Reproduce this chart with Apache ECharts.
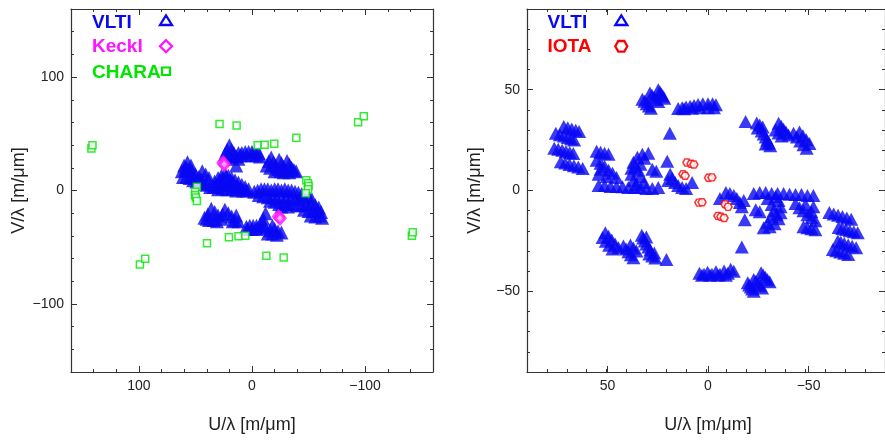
<!DOCTYPE html>
<html><head><meta charset="utf-8">
<script src="https://cdn.jsdelivr.net/npm/echarts@6/dist/echarts.min.js"></script>
<style>html,body{margin:0;padding:0;background:#fff}#c{width:885px;height:441px}</style>
</head><body><div id="c"></div>
<script>
// ---------- DATA (u, v in m/um) ----------
const vltiLeft = [
 [60,22],[57,25],[54,22],[62,17],[59,18],[56,18],[53,17],[50,14],[47,12],[44,17],[41,14],[38,11],[61,12],[58,12],[55,11],[52,9],[49,8],[46,7],[43,6],[40,5],[37,3],[58,20],[52,13],[45,10],
 [33,8],[30,11],[27,13],[24,15],[21,13],[18,11],[15,9],[12,7],[9,5],[6,3],[3,1],[34,3],[31,4],[28,5],[25,6],[22,6],[19,5],[16,4],[13,3],[10,2],[30,1],[26,2],[22,1],[18,1],[14,0],[8,0],[5,0],[25,10],[20,9],[28,9],[23,12],[17,7],
 [24,32],[22,36],[20,40],[18,36],[16,33],[14,30],[12,28],[23,28],[19,30],[21,30],[12,33],[9,33],[6,34],[3,34],[0,34],[-3,34],[-6,33],[10,31],[5,31],[0,31],[-4,31],[-7,30],
 [14,22],
 [-13,22],[-15,26],[-17,29],[-19,25],[-21,22],[-23,19],[-24,27],[-26,24],[-28,21],[-30,18],[-31,26],[-33,23],[-35,20],[-37,18],[-39,17],[-16,20],[-20,17],[-25,17],[-28,16],[-33,16],
 [-2,-1],[-5,0],[-8,1],[-11,1],[-14,1],[-17,0],[-20,1],[-23,1],[-26,0],[-29,1],[-32,0],[-35,0],[-38,-1],[-41,-2],[-44,-3],
 [-6,-4],[-10,-5],[-14,-6],[-18,-6],[-22,-7],[-26,-6],[-30,-6],[-34,-7],[-38,-7],[-42,-8],[-46,-6],[-50,-5],[-53,-8],
 [-16,-9],[-20,-10],[-24,-12],[-28,-12],[-32,-12],[-36,-12],[-40,-13],[-44,-13],[-48,-12],[-52,-12],[-56,-13],[-59,-15],
 [-26,-14],[-32,-14],[-46,-17],[-50,-18],[-54,-18],[-58,-18],[-61,-19],
 [-52,-22],[-56,-23],[-60,-22],[-62,-24],
 [42,-24],[39,-21],[36,-16],[33,-19],[30,-22],[27,-25],[24,-17],[21,-20],[18,-23],[15,-26],[12,-27],[38,-26],[34,-26],[31,-27],[26,-21],[14,-22],[17,-27],[40,-25],
 [-12,-20],[5,-32],[2,-31],[-1,-31],[-4,-31],[-7,-30],[-10,-29],[4,-34],[0,-34],[-4,-34],[-8,-33],[-11,-32],[-10,-25],
 [-18,-31],[-16,-35],[-20,-34],[-23,-36],[-26,-37],[-14,-38],[-18,-38],[-22,-39]
];
const keckLeft = [[25.5,24.5],[24.5,23],[-23.5,-23],[-24.8,-24.5]];
const charaLeft = [
 [142,37],[141,40],[28.7,58.7],[13.6,57.2],[-5,39.8],[-11.2,40.4],[-19.7,41.2],[-39.2,46.5],[-93.8,60.2],[-98.8,65.5],
 [-48,9],[-49.5,6.5],[-50,4],[-49.5,1],[-47.5,-2.5],
 [48.7,3.2],[50.2,-1.2],[50.4,-4.2],[49.6,-6.2],[48.7,-9.2],
 [39.8,-46.4],[20.4,-41.3],[11.9,-40.4],[5.9,-39.8],[-12.7,-57.5],[-28,-59],[99.1,-65.2],[94.4,-60.2],[-141.3,-39.8],[-142.1,-36.9]
];
const vltiRight = [
 [71.5,31.7],[69.5,31.1],[67.5,30.5],[65.5,29.9],[63.8,29.2],
 [75.5,28.4],[73.5,27.7],[71.5,27],[69.5,26.3],[67.8,25.6],[66.3,25],
 [76.3,20.9],[74.3,20.4],[72.3,19.9],[70.4,19.4],[68.5,18.9],[66.7,18.4],
 [73,14.3],[70.8,13.6],[68.6,12.9],[66.4,12.3],[64.2,11.6],[62,10.9],
 [-71.5,-31.7],[-69.5,-31.1],[-67.5,-30.5],[-65.5,-29.9],[-63.8,-29.2],
 [-75.5,-28.4],[-73.5,-27.7],[-71.5,-27],[-69.5,-26.3],[-67.8,-25.6],[-66.3,-25],
 [-76.3,-20.9],[-74.3,-20.4],[-72.3,-19.9],[-70.4,-19.4],[-68.5,-18.9],[-66.7,-18.4],
 [-73,-14.3],[-70.8,-13.6],[-68.6,-12.9],[-66.4,-12.3],[-64.2,-11.6],[-62,-10.9],
 [24,50],[23.2,48.9],[22.5,47.9],[21.7,46.8],[21,45.8],
 [28.2,48.3],[27.2,47.2],[26.1,46.2],[25,45.1],[24,44.1],
 [32,45.3],[30.9,44.2],[29.8,43],[28.7,41.9],[27.7,40.8],
 [-24,-50],[-23.2,-48.9],[-22.5,-47.9],[-21.7,-46.8],[-21,-45.8],
 [-28.2,-48.3],[-27.2,-47.2],[-26.1,-46.2],[-25,-45.1],[-24,-44.1],
 [-32,-45.3],[-30.9,-44.2],[-29.8,-43],[-28.7,-41.9],[-27.7,-40.8],
 [14,40.6],[12,41],[10,41.4],[8,41.8],[6,42.2],[4,42.6],[1.6,43],[-1,43],[-3.3,43],[-5,42.5],[11,40.5],[7,40.8],[3,41],[-1,41],[-4,41],
 [3.3,-41],[1,-41.5],[-0.8,-40.5],[-3,-41.5],[-5,-40.3],[-7,-41.5],[-9.1,-39.9],[-11,-41],[-12.4,-39.1],[-14,-40],[2,-42],[-2,-42],[-6,-42],[-10,-42],
 [-19.9,34.2],
 [-25.5,33.5],[-27,32.5],[-28.5,31.5],[-26,31],[-28,29.5],[-29,28],[-30,26.5],[-30.8,25],[-31.6,23.5],[-32.3,22.2],[-30,23],
 [-36.5,33.3],[-37.8,31.8],[-39,30.4],[-40.2,29],[-41.5,27.5],[-35,30],[-36.5,28.5],[-38,27],
 [-44,28.4],[-45.7,26.5],[-47.4,24.6],[-49,22.7],[-50.6,20.9],[-47,29],[-48.7,27.1],[-50.4,25.2],[-52,23.3],
 [19.9,-34.2],
 [25.5,-33.5],[27,-32.5],[28.5,-31.5],[26,-31],[28,-29.5],[29,-28],[30,-26.5],[30.8,-25],[31.6,-23.5],[32.3,-22.2],[30,-23],
 [36.5,-33.3],[37.8,-31.8],[39,-30.4],[40.2,-29],[41.5,-27.5],[35,-30],[36.5,-28.5],[38,-27],
 [44,-28.4],[45.7,-26.5],[47.4,-24.6],[49,-22.7],[50.6,-20.9],[47,-29],[48.7,-27.1],[50.4,-25.2],[52,-23.3],
 [55,19.5],[53,19],[51,18.5],[49,18],
 [55,15],[53,13.5],[51,12],[49,10],[47,8.5],[45,6.5],[53,10.5],[54,8],[50,7],
 [54,2.5],[51,2.5],[48,2],[45,2],[42,1.8],[39,1.5],[36,1.5],[33,1.5],
 [29,18.5],[32,18],[34.5,16.5],[36.5,14],[37.5,11],[37.5,8],[36.5,5],[35,3],[30,1],[27,1],[24,1.5],[33,13],[34,10],[33,7],[31,4],[31,16],[35.5,12],
 [25,9.5],[27,10.5],[19.5,14.5],[18,8],[17,6],[15.5,4],[14,2.5],[12,1.5],[10,1],[19,5],[7,4],
 [-55,-19.5],[-53,-19],[-51,-18.5],[-49,-18],
 [-55,-15],[-53,-13.5],[-51,-12],[-49,-10],[-47,-8.5],[-45,-6.5],[-53,-10.5],[-54,-8],[-50,-7],
 [-54,-2.5],[-51,-2.5],[-48,-2],[-45,-2],[-42,-1.8],[-39,-1.5],[-36,-1.5],[-33,-1.5],
 [-29,-18.5],[-32,-18],[-34.5,-16.5],[-36.5,-14],[-37.5,-11],[-37.5,-8],[-36.5,-5],[-35,-3],[-30,-1],[-27,-1],[-24,-1.5],[-33,-13],[-34,-10],[-33,-7],[-31,-4],[-31,-16],[-35.5,-12],
 [-25,-9.5],[-27,-10.5],[-19.5,-14.5],[-18,-8],[-17,-6],[-15.5,-4],[-14,-2.5],[-12,-1.5],[-10,-1],[-19,-5],[-7,-4],
 [18.2,28.4],[-18,-28]
];
const iotaRight = [[9.6,13.9],[7.5,13.3],[6.1,12.9],[11.6,8.1],[10.5,7.3],[-1.3,6.3],[-3,6.5],[3.6,-6],[2,-5.8],[-9.6,-6.8],[-11.1,-8.1],[-6,-12.6],[-7.5,-13],[-9.1,-13.6]];
const axisTitleX = 'U/\u03bb [m/\u03bcm]';
const axisTitleY = 'V/\u03bb [m/\u03bcm]';

// ---------- LAYOUT ----------
const FONT = '"Liberation Sans", Arial, Helvetica, sans-serif';
const BLUE = '#0808f2', MAG = '#ff14ff', GREEN = '#00e600', RED = '#ff0000';
const AX = '#333', LAB = '#222';
const panels = [
 {left:71, top:9, w:362, h:363, R:160, minor:20, major:100},
 {left:527, top:9, w:362, h:363, R:90, minor:10, major:50}
];
const fmt = v => v < 0 ? '\u2212' + (-v) : String(v);
const grid = [], xAxis = [], yAxis = [], refs = [];
panels.forEach(p => {
  const gA = grid.length;
  grid.push({left:p.left, top:p.top, width:p.w, height:p.h});
  const f = (p.R - p.major) / (2 * p.R);
  const gB = grid.length;
  grid.push({left:p.left + f * p.w, top:p.top, width:p.w * p.major / p.R, height:p.h});
  const gC = grid.length;
  grid.push({left:p.left, top:p.top + f * p.h, width:p.w, height:p.h * p.major / p.R});
  const minorAx = (g, pos, inv) => ({gridIndex:g, type:'value', position:pos, inverse:inv, min:-p.R, max:p.R, interval:p.minor,
    axisLine:{show:true, onZero:false, lineStyle:{color:AX, width:1.2}},
    axisTick:{show:true, inside:true, length:3, lineStyle:{color:AX, width:1}},
    axisLabel:{show:false}, splitLine:{show:false}});
  const majorAx = (g, pos, inv, labels, name, gap) => ({gridIndex:g, type:'value', position:pos, inverse:inv, min:-p.major, max:p.major, interval:p.major,
    axisLine:{show:false, onZero:false},
    axisTick:{show:true, inside:true, length:6, lineStyle:{color:AX, width:1}},
    axisLabel:{show:labels, formatter:fmt, fontSize:14, color:LAB, fontFamily:FONT, margin:7},
    splitLine:{show:false},
    name: name || '', nameLocation:'middle', nameGap: gap || 0,
    nameTextStyle:{fontSize:18, color:LAB, fontFamily:FONT}});
  const xi = xAxis.length, yi = yAxis.length;
  xAxis.push(minorAx(gA, 'bottom', true), minorAx(gA, 'top', true));
  yAxis.push(minorAx(gA, 'left', false), minorAx(gA, 'right', false));
  xAxis.push(majorAx(gB, 'bottom', true, true, axisTitleX, 44), majorAx(gB, 'top', true, false));
  yAxis.push({gridIndex:gB, show:false, min:-1, max:1});
  xAxis.push({gridIndex:gC, show:false, min:-1, max:1});
  yAxis.push(majorAx(gC, 'left', false, true, axisTitleY, 43), majorAx(gC, 'right', false, false));
  refs.push({xi, yi});
});

const hexPath = 'path://M-1,0 L-0.5,-0.87 L0.5,-0.87 L1,0 L0.5,0.87 L-0.5,0.87 Z';
const series = [
 {type:'scatter', xAxisIndex:refs[0].xi, yAxisIndex:refs[0].yi, data:vltiLeft, symbol:'triangle', symbolSize:[14,14], itemStyle:{color:BLUE}},
 {type:'scatter', xAxisIndex:refs[0].xi, yAxisIndex:refs[0].yi, data:charaLeft, symbol:'rect', symbolSize:7, itemStyle:{color:'#fff', borderColor:GREEN, borderWidth:1.5}},
 {type:'scatter', xAxisIndex:refs[0].xi, yAxisIndex:refs[0].yi, data:keckLeft, symbol:'diamond', symbolSize:[10,11], itemStyle:{color:'#ffb0ff', borderColor:MAG, borderWidth:3}},
 {type:'scatter', xAxisIndex:refs[1].xi, yAxisIndex:refs[1].yi, data:vltiRight, symbol:'triangle', symbolSize:[14,13], itemStyle:{color:BLUE}},
 {type:'scatter', xAxisIndex:refs[1].xi, yAxisIndex:refs[1].yi, data:iotaRight, symbol:hexPath, symbolSize:[8,7], itemStyle:{color:'#fff', borderColor:RED, borderWidth:1.5}}
];
series.forEach(s => { s.silent = true; s.animation = false; });

const legText = (txt, x, y, color) => ({type:'text', x:x, y:y, silent:true,
  style:{text:txt, fill:color, font:'bold 19px ' + FONT, textVerticalAlign:'middle', verticalAlign:'middle'}});
const graphic = [
 legText('VLTI', 92, 23, BLUE), legText('KeckI', 92, 47, MAG), legText('CHARA', 92, 72.5, GREEN),
 {type:'polygon', silent:true, shape:{points:[[160,25],[166,15.5],[172,25]]}, style:{fill:'none', stroke:BLUE, lineWidth:2.3}},
 {type:'polygon', silent:true, shape:{points:[[166,40.2],[172,46.2],[166,52.2],[160,46.2]]}, style:{fill:'none', stroke:MAG, lineWidth:2.3}},
 {type:'rect', silent:true, shape:{x:162, y:67.5, width:8, height:7.5}, style:{fill:'none', stroke:GREEN, lineWidth:2.2}},
 legText('VLTI', 547.5, 23, BLUE), legText('IOTA', 547.5, 47, RED),
 {type:'polygon', silent:true, shape:{points:[[615.3,25],[621.3,15.5],[627.3,25]]}, style:{fill:'none', stroke:BLUE, lineWidth:2.3}},
 {type:'polygon', silent:true, shape:{points:[[615.3,46.3],[618.3,41],[624.3,41],[627.3,46.3],[624.3,51.6],[618.3,51.6]]}, style:{fill:'none', stroke:RED, lineWidth:2.3}}
];

const chart = echarts.init(document.getElementById('c'), null, {renderer:'canvas'});
chart.setOption({animation:false, backgroundColor:'#fff', textStyle:{fontFamily:FONT}, grid, xAxis, yAxis, series, graphic});
</script></body></html>
